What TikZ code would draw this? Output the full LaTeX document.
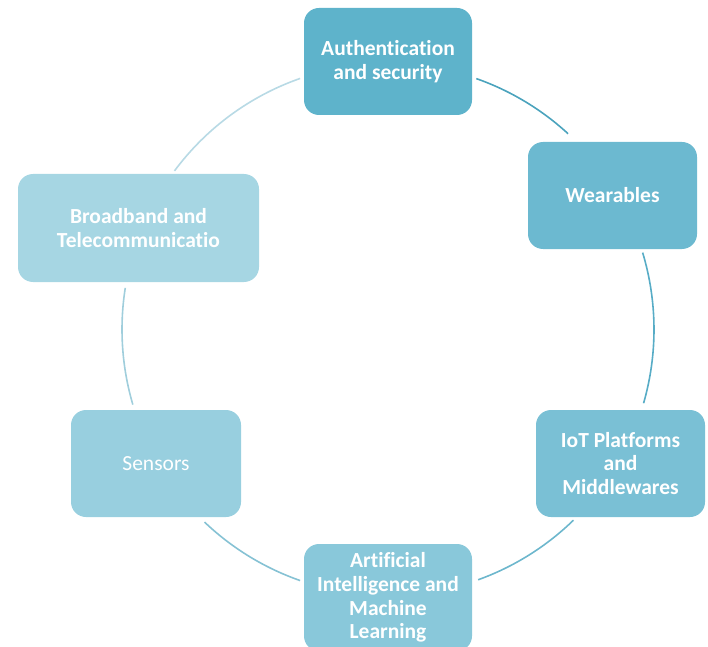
\documentclass[tikz,border=0pt]{standalone}
\usepackage{fontspec}
\setmainfont[Ligatures={NoCommon}]{Carlito}
\definecolor{cA}{HTML}{5EB3CB}
\definecolor{cW}{HTML}{6CB9D0}
\definecolor{cI}{HTML}{7AC0D5}
\definecolor{cM}{HTML}{89C8DA}
\definecolor{cS}{HTML}{98CFDF}
\definecolor{cB}{HTML}{A6D6E3}
\definecolor{aAW}{HTML}{4BA3BD}
\definecolor{aWI}{HTML}{57ACC6}
\definecolor{aIM}{HTML}{6DB7CD}
\definecolor{aMS}{HTML}{86C2D4}
\definecolor{aSB}{HTML}{A0CEDC}
\definecolor{aBA}{HTML}{B8DAE5}
\begin{document}
\begin{tikzpicture}[x=1pt,y=1pt,
  box/.style={rounded corners=15pt, minimum height=107pt, text=white, align=center,
    font=\fontsize{21.5}{23.6}\selectfont\bfseries, inner sep=0pt},
  link/.style={line width=1.6pt}]
\useasboundingbox (0,0) rectangle (708,646);
\coordinate (cen) at (388,316.5);
\node[box, fill=cA, minimum width=168pt] (auth) at (388,584.5) {Authentication\\and security};
\node[box, fill=cW, minimum width=169pt] (wear) at (612.5,450.5) {Wearables};
\node[box, fill=cI, minimum width=169pt] (iot) at (620.5,182.5) {IoT Platforms\\and\\Middlewares};
\node[box, fill=cM, minimum width=168pt] (ai) at (388,48.5) {Artificial\\Intelligence and\\Machine\\Learning};
\node[box, fill=cS, minimum width=170pt, font=\fontsize{21.5}{23.6}\selectfont] (sens) at (156,182.5) {Sensors};
\node[box, fill=cB, minimum width=241pt, minimum height=108pt] (broad) at (138.5,418) {Broadband and\\Telecommunicatio};
\draw[link, aAW] ([shift={(70.6:266)}]cen) arc[start angle=70.6, end angle=47.4, radius=266];
\draw[link, aWI] ([shift={(16.8:266)}]cen) arc[start angle=16.8, end angle=-16.1, radius=266];
\draw[link, aIM] ([shift={(-45.8:266)}]cen) arc[start angle=-45.8, end angle=-70.2, radius=266];
\draw[link, aMS] ([shift={(-109.3:266)}]cen) arc[start angle=-109.3, end angle=-133.6, radius=266];
\draw[link, aSB] ([shift={(-163.6:266)}]cen) arc[start angle=-163.6, end angle=-189, radius=266];
\draw[link, aBA] ([shift={(143.4:266)}]cen) arc[start angle=143.4, end angle=109.3, radius=266];
\end{tikzpicture}
\end{document}
